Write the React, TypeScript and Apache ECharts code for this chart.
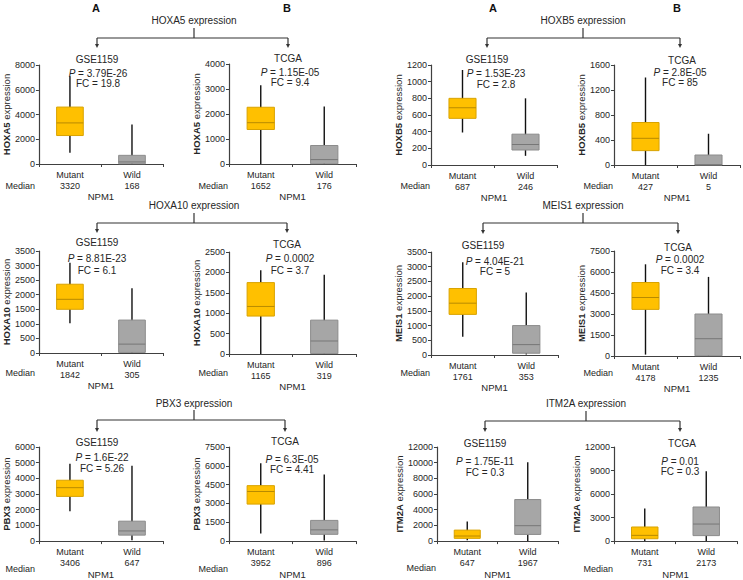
import React, { useEffect, useRef } from "react";
import * as echarts from "echarts";

// ---------- data ----------
const categories = ["Mutant", "Wild"];
const panelGenes = ["HOXA5", "HOXA5", "HOXB5", "HOXB5", "HOXA10", "HOXA10", "MEIS1", "MEIS1", "PBX3", "PBX3", "ITM2A", "ITM2A"];
const panelDatasets = ["GSE1159", "TCGA", "GSE1159", "TCGA", "GSE1159", "TCGA", "GSE1159", "TCGA", "GSE1159", "TCGA", "GSE1159", "TCGA"];
const groupTitles = ["HOXA5 expression", "HOXB5 expression", "HOXA10 expression", "MEIS1 expression", "PBX3 expression", "ITM2A expression"];
const panelLetters = ["A", "B"];
const pValues = ["3.79E-26", "1.15E-05", "1.53E-23", "2.8E-05", "8.81E-23", "0.0002", "4.04E-21", "0.0002", "1.6E-22", "6.3E-05", "1.75E-11", "0.01"];
const fcValues = ["19.8", "9.4", "2.8", "85", "6.1", "3.7", "5", "3.4", "5.26", "4.41", "0.3", "0.3"];
const medianLabels = [[3320, 168], [1652, 176], [687, 246], [427, 5], [1842, 305], [1165, 319], [1761, 353], [4178, 1235], [3406, 647], [3952, 896], [647, 1967], [731, 2173]];
const yMax = [8000, 4000, 1200, 1600, 3500, 2500, 3500, 7500, 6000, 7500, 12000, 12000];
const yInterval = [2000, 1000, 200, 400, 500, 500, 500, 1500, 1000, 1500, 2000, 3000];
// [min, Q1, median, Q3, max]
const mutantBoxes = [
  [900, 2300, 3320, 4600, 7100],
  [0, 1380, 1652, 2270, 3150],
  [390, 560, 687, 800, 1140],
  [0, 230, 427, 680, 1400],
  [1020, 1500, 1842, 2360, 3100],
  [0, 930, 1165, 1750, 2050],
  [620, 1380, 1761, 2260, 3150],
  [100, 3330, 4178, 5250, 6550],
  [1900, 2850, 3406, 3880, 4930],
  [600, 2950, 3952, 4420, 6200],
  [100, 350, 647, 1400, 2500],
  [0, 300, 731, 1800, 4150],
];
const wildBoxes = [
  [0, 20, 168, 700, 3200],
  [0, 10, 176, 740, 2300],
  [110, 180, 246, 370, 800],
  [0, 0, 5, 160, 500],
  [0, 20, 305, 1130, 2220],
  [0, 10, 319, 830, 1940],
  [20, 60, 353, 1000, 2120],
  [0, 20, 1235, 3000, 5650],
  [50, 380, 647, 1270, 4800],
  [50, 540, 896, 1650, 5300],
  [0, 850, 1967, 5300, 10050],
  [0, 700, 2173, 4350, 8900],
];

// ---------- layout ----------
const FONT = "'Liberation Sans', Arial, Helvetica, sans-serif";
const gridRects = [
  [36, 65, 127, 99], [229, 64, 127, 100], [431, 65, 126, 100], [614, 65, 126, 100],
  [36, 251, 127, 102], [229, 252, 127, 102], [431, 252, 127, 103], [614, 251, 126, 105],
  [36, 447, 127, 102], [229, 447, 127, 102], [437, 447, 121, 101], [614, 447, 123, 101],
];
const datasetPos = [[97, 59], [288, 58], [487, 59], [682, 60], [97, 242], [287, 244], [483, 245], [678, 247], [97, 442], [285, 441], [485, 443], [682, 443]];
const statsPos = [[98, 73, 83], [290, 72, 82], [496, 73, 84], [680, 72, 82], [97, 258, 270], [290, 258, 270], [495, 261, 271], [680, 259, 270], [102, 457, 468], [292, 459, 469], [485, 461, 472], [680, 461, 471]];
const xNameGap = [27, 27, 27, 27, 26, 26, 26, 26, 23, 23, 23, 23];
const medianRowY = [186, 186, 186, 186, 373, 373, 373, 373, 569, 569, 568, 569];
const brackets = [
  { tx: 194, ty: 20, ly: 38, tt: 28, x1: 97, x2: 288, ab: 48 },
  { tx: 583, ty: 20, ly: 38, tt: 28, x1: 487, x2: 680, ab: 48 },
  { tx: 194, ty: 205, ly: 223, tt: 213, x1: 97, x2: 287, ab: 233 },
  { tx: 583, ty: 205, ly: 223, tt: 213, x1: 483, x2: 678, ab: 234 },
  { tx: 194, ty: 403, ly: 420, tt: 410, x1: 97, x2: 285, ab: 432 },
  { tx: 586, ty: 403, ly: 421, tt: 411, x1: 485, x2: 680, ab: 432 },
];
const letterPos = [[96, 8], [287, 8], [493, 8], [677, 8]];

function renderBox(params: any, api: any) {
  const cat = api.value(0);
  const lo = api.value(1), q1 = api.value(2), med = api.value(3), q3 = api.value(4), hi = api.value(5);
  const cx = api.coord([cat, med])[0];
  const bw = api.size([1, 0])[0] * 0.43;
  const yLo = api.coord([cat, lo])[1];
  const yQ1 = api.coord([cat, q1])[1];
  const yMed = api.coord([cat, med])[1];
  const yQ3 = api.coord([cat, q3])[1];
  const yHi = api.coord([cat, hi])[1];
  const mut = cat === 0;
  const fill = mut ? "#FFC000" : "#A6A6A6";
  const stroke = mut ? "#D9A300" : "#8C8C8C";
  const medColor = mut ? "#B88A00" : "#777777";
  return {
    type: "group",
    children: [
      { type: "line", shape: { x1: cx, y1: yHi, x2: cx, y2: yLo }, style: { stroke: "#111", lineWidth: 1.4 } },
      { type: "rect", shape: { x: cx - bw / 2, y: yQ3, width: bw, height: Math.max(yQ1 - yQ3, 0.5) }, style: { fill, stroke, lineWidth: 1 } },
      { type: "line", shape: { x1: cx - bw / 2, y1: yMed, x2: cx + bw / 2, y2: yMed }, style: { stroke: medColor, lineWidth: 1 } },
    ],
  };
}

export default function App() {
  const ref = useRef<HTMLDivElement>(null);
  useEffect(() => {
    document.body.style.margin = "0";
    const chart = echarts.init(ref.current!, null, { renderer: "svg" });
    const grid: any[] = [];
    const xAxis: any[] = [];
    const yAxis: any[] = [];
    const series: any[] = [];
    const graphic: any[] = [];
    const axisColor = "#404040";
    const textColor = "#262626";

    gridRects.forEach((g, i) => {
      grid.push({ left: g[0], top: g[1], width: g[2], height: g[3] });
      xAxis.push({
        type: "category",
        gridIndex: i,
        data: categories,
        name: "NPM1",
        nameLocation: "middle",
        nameGap: xNameGap[i],
        nameTextStyle: { fontSize: 9.5, color: textColor, fontFamily: FONT },
        axisLine: { lineStyle: { color: axisColor, width: 1.2 } },
        axisTick: { show: true, length: 3, lineStyle: { color: axisColor } },
        axisLabel: {
          fontSize: 9,
          lineHeight: 11,
          color: textColor,
          fontFamily: FONT,
          margin: 5,
          formatter: (v: string, idx: number) => `${v}\n${medianLabels[i][idx]}`,
        },
      });
      yAxis.push({
        type: "value",
        gridIndex: i,
        min: 0,
        max: yMax[i],
        interval: yInterval[i],
        name: `{b|${panelGenes[i]}} expression`,
        nameLocation: "middle",
        nameGap: i === 10 || i === 11 ? 33 : 26,
        nameRotate: 90,
        nameTextStyle: {
          fontSize: 9.5,
          color: textColor,
          fontFamily: FONT,
          rich: { b: { fontWeight: "bold", fontSize: 9.5, color: textColor, fontFamily: FONT } },
        },
        splitLine: { show: false },
        axisLine: { show: true, lineStyle: { color: axisColor, width: 1.2 } },
        axisTick: { show: true, length: 3, lineStyle: { color: axisColor } },
        axisLabel: { fontSize: 9, color: textColor, fontFamily: FONT, margin: 4, formatter: (v: number) => String(v) },
      });
      series.push({
        type: "custom",
        xAxisIndex: i,
        yAxisIndex: i,
        renderItem: renderBox,
        encode: { x: 0, y: [1, 2, 3, 4, 5] },
        data: [
          [0, ...mutantBoxes[i]],
          [1, ...wildBoxes[i]],
        ],
        z: 3,
      });
      // in-panel annotations
      graphic.push({
        type: "text",
        x: datasetPos[i][0],
        y: datasetPos[i][1],
        style: { text: panelDatasets[i], fill: textColor, font: `10px ${FONT}`, textAlign: "center", textVerticalAlign: "middle" },
      });
      graphic.push({
        type: "text",
        x: statsPos[i][0],
        y: statsPos[i][1],
        style: {
          text: `{i|P} = ${pValues[i]}`,
          fill: textColor,
          font: `10px ${FONT}`,
          textAlign: "center",
          textVerticalAlign: "middle",
          rich: { i: { fontStyle: "italic", fontSize: 10, fontFamily: FONT, fill: textColor } },
        },
      });
      graphic.push({
        type: "text",
        x: statsPos[i][0],
        y: statsPos[i][2],
        style: { text: `FC = ${fcValues[i]}`, fill: textColor, font: `10px ${FONT}`, textAlign: "center", textVerticalAlign: "middle" },
      });
      graphic.push({
        type: "text",
        x: g[0] - 1,
        y: medianRowY[i],
        style: { text: "Median", fill: textColor, font: `9px ${FONT}`, textAlign: "right", textVerticalAlign: "middle" },
      });
    });

    brackets.forEach((b, k) => {
      const c = "#333333";
      graphic.push({
        type: "text",
        x: b.tx,
        y: b.ty,
        style: { text: groupTitles[k], fill: textColor, font: `10px ${FONT}`, textAlign: "center", textVerticalAlign: "middle" },
      });
      graphic.push({ type: "line", shape: { x1: b.tx, y1: b.tt, x2: b.tx, y2: b.ly }, style: { stroke: c, lineWidth: 1.2 } });
      graphic.push({ type: "line", shape: { x1: b.x1, y1: b.ly, x2: b.x2, y2: b.ly }, style: { stroke: c, lineWidth: 1.2 } });
      [b.x1, b.x2].forEach((x) => {
        graphic.push({ type: "line", shape: { x1: x, y1: b.ly, x2: x, y2: b.ab - 3 }, style: { stroke: c, lineWidth: 1.2 } });
        graphic.push({
          type: "polygon",
          shape: { points: [[x - 2, b.ab - 4], [x + 2, b.ab - 4], [x, b.ab]] },
          style: { fill: c },
        });
      });
    });

    letterPos.forEach((p, k) => {
      graphic.push({
        type: "text",
        x: p[0],
        y: p[1],
        style: { text: panelLetters[k % 2], fill: "#111", font: `bold 11px ${FONT}`, textAlign: "center", textVerticalAlign: "middle" },
      });
    });

    chart.setOption({
      animation: false,
      backgroundColor: "#ffffff",
      textStyle: { fontFamily: FONT },
      grid,
      xAxis,
      yAxis,
      series,
      graphic,
    });
    return () => chart.dispose();
  }, []);
  return <div ref={ref} style={{ position: "fixed", left: 0, top: 0, width: 743, height: 580, background: "#fff" }} />;
}
